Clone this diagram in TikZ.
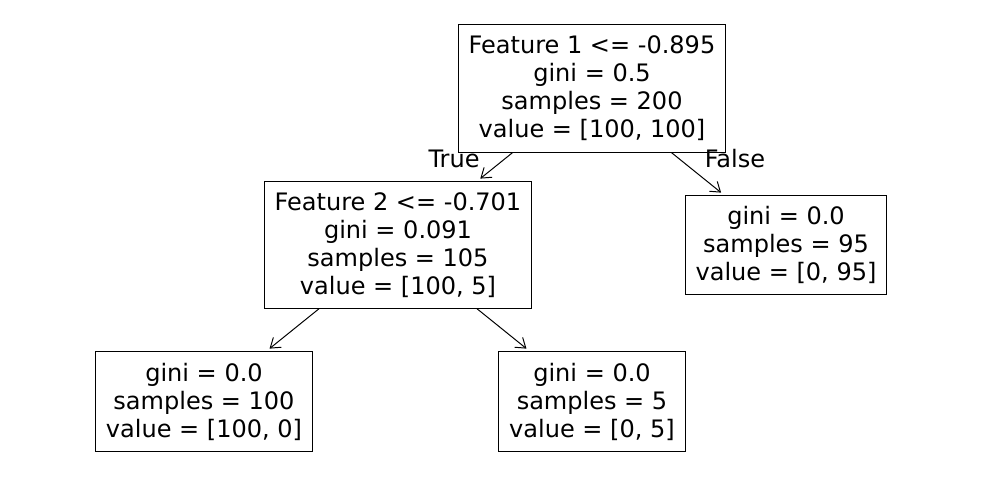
\documentclass[tikz,border=0pt]{standalone}
\usepackage{fontspec}
\setmainfont{DejaVu Sans}
\usepackage{tikz}
\usetikzlibrary{arrows.meta}

\begin{document}
\begin{tikzpicture}[x=0.01cm, y=-0.01cm, every node/.style={font=\fontsize{6.83}{7.97}\selectfont},
		split/.style={draw, line width=0.28pt, align=center, inner sep=0pt},
		link/.style={-{Straight Barb[length=2.6pt, width=3.6pt]}, line width=0.28pt, shorten >=1.3pt}]
			\useasboundingbox (0,0) rectangle (989,490);
			% Nodes
			\node[split, minimum width=2.66cm, minimum height=1.27cm] (root) at (592,88.5) {Feature 1 <= -0.895\\gini = 0.5\\samples = 200\\value = [100, 100]};
			\node[split, minimum width=2.66cm, minimum height=1.26cm] (left) at (398,245) {Feature 2 <= -0.701\\gini = 0.091\\samples = 105\\value = [100, 5]};
			\node[split, minimum width=2.00cm, minimum height=0.98cm] (right) at (786,245) {gini = 0.0\\samples = 95\\value = [0, 95]};
			\node[split, minimum width=2.16cm, minimum height=0.99cm] (leftleft) at (204,401.5) {gini = 0.0\\samples = 100\\value = [100, 0]};
			\node[split, minimum width=1.86cm, minimum height=0.99cm] (leftright) at (592,401.5) {gini = 0.0\\samples = 5\\value = [0, 5]};

			% Links
			\draw[link] (root) -- (left);
			\draw[link] (root) -- (right);
			\draw[link] (left) -- (leftleft);
			\draw[link] (left) -- (leftright);

			% Edge labels
			\node (true) at (454,159) {True};
			\node (false) at (735,159) {False};
		\end{tikzpicture}
\end{document}
